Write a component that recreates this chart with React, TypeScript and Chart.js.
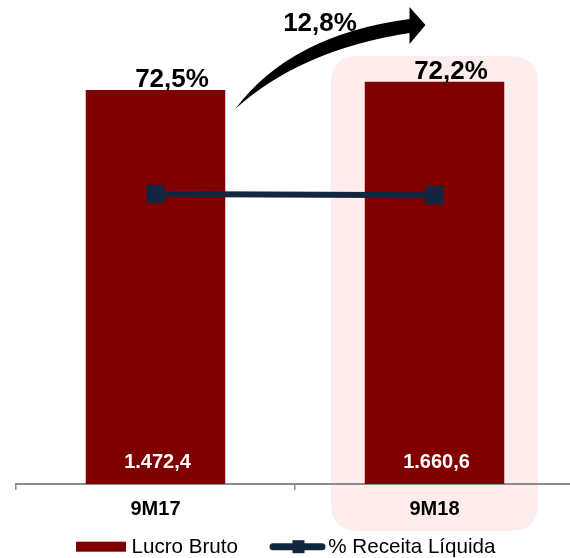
import React, { useEffect, useRef } from "react";
import { Chart, registerables } from "chart.js";

Chart.register(...registerables);

// ---- data ----
const categories: string[] = ["9M17", "9M18"];
const lucroBruto: number[] = [1472.4, 1660.6];
const receitaPct: number[] = [72.5, 72.2];
const seriesNames: string[] = ["Lucro Bruto", "% Receita Líquida"];
const highlightIndex = 1;

// ---- styles ----
const FONT = "'Liberation Sans', Arial, Helvetica, sans-serif";
const BAR_COLOR = "#800000";
const LINE_COLOR = "#13263f";
const HIGHLIGHT = "#ffeded";
const AXIS_COLOR = "#8c8c8c";

// value-axis window used by the source chart (bars are not drawn from zero there)
const BAR_AXIS_MIN = -7460;
const BAR_AXIS_MAX = 2243;
const PCT_AXIS_MIN = 0;
const PCT_AXIS_MAX = 107;

function fmtNum(v: number, decimals = 1): string {
  const [i, d] = v.toFixed(decimals).split(".");
  const withDots = i.replace(/\B(?=(\d{3})+(?!\d))/g, ".");
  return d ? `${withDots},${d}` : withDots;
}

function roundRect(ctx: CanvasRenderingContext2D, x: number, y: number, w: number, h: number, r: number) {
  ctx.beginPath();
  ctx.moveTo(x + r, y);
  ctx.lineTo(x + w - r, y);
  ctx.quadraticCurveTo(x + w, y, x + w, y + r);
  ctx.lineTo(x + w, y + h - r);
  ctx.quadraticCurveTo(x + w, y + h, x + w - r, y + h);
  ctx.lineTo(x + r, y + h);
  ctx.quadraticCurveTo(x, y + h, x, y + h - r);
  ctx.lineTo(x, y + r);
  ctx.quadraticCurveTo(x, y, x + r, y);
  ctx.closePath();
}

const highlightPlugin = {
  id: "highlight",
  beforeDraw(chart: any) {
    const { ctx, chartArea } = chart;
    const xs = chart.scales.x;
    const cx = xs.getPixelForValue(highlightIndex);
    const cw = xs.width / categories.length;
    const w = cw * 0.743;
    ctx.save();
    ctx.fillStyle = HIGHLIGHT;
    roundRect(ctx, cx - w / 2, chartArea.top, w, chartArea.bottom + 47 - chartArea.top, 28);
    ctx.fill();
    ctx.restore();
  },
};

const labelsPlugin = {
  id: "labels",
  afterDatasetsDraw(chart: any) {
    const { ctx } = chart;
    const bars = chart.getDatasetMeta(0).data;
    ctx.save();
    bars.forEach((bar: any, i: number) => {
      // percentage above bar
      ctx.font = `bold 26px ${FONT}`;
      ctx.fillStyle = "#000";
      ctx.textAlign = "center";
      ctx.textBaseline = "alphabetic";
      ctx.fillText(fmtNum(receitaPct[i]) + "%", bar.x + 16.5, bar.y - 3);
      // value inside bar
      ctx.font = `bold 20px ${FONT}`;
      ctx.fillStyle = "#fff";
      ctx.textBaseline = "middle";
      ctx.fillText(fmtNum(lucroBruto[i]), bar.x + 2, bar.base - 22);
    });
    ctx.restore();
  },
  afterDraw(chart: any) {
    const { ctx } = chart;
    const bars = chart.getDatasetMeta(0).data;
    const b1 = bars[0];
    const b2 = bars[1];
    // growth arrow
    const tx = b1.x + b1.width / 2 + 10;
    const ty = b1.y + 19;
    const hx = b2.x - 25;
    const hy = chart.chartArea.top - 30;
    const tipX = b2.x - 9;
    ctx.save();
    ctx.fillStyle = "#000";
    ctx.beginPath();
    ctx.moveTo(tx, ty);
    ctx.quadraticCurveTo(tx + 65, hy + 24, hx, hy + 7);
    ctx.lineTo(hx, hy + 18);
    ctx.lineTo(tipX, hy - 1);
    ctx.lineTo(hx, hy - 19);
    ctx.lineTo(hx, hy - 7);
    ctx.quadraticCurveTo(tx + 55, hy + 9, tx, ty);
    ctx.closePath();
    ctx.fill();

    const growth = (lucroBruto[1] / lucroBruto[0] - 1) * 100;
    ctx.font = `bold 26px ${FONT}`;
    ctx.textAlign = "center";
    ctx.textBaseline = "alphabetic";
    ctx.fillText(fmtNum(growth) + "%", (b1.x + b2.x) / 2 + 25, hy + 5);

    // legend
    const ly = chart.height - 11.3;
    const ds = chart.data.datasets;
    ctx.font = `20.6px ${FONT}`;
    ctx.textAlign = "left";
    ctx.textBaseline = "middle";
    ctx.fillStyle = ds[0].backgroundColor;
    ctx.fillRect(76, ly - 5, 50, 10);
    ctx.fillStyle = "#000";
    ctx.fillText(ds[0].label, 131.5, ly + 1);

    ctx.strokeStyle = ds[1].borderColor;
    ctx.lineWidth = 7;
    ctx.lineCap = "round";
    ctx.beginPath();
    ctx.moveTo(273, ly);
    ctx.lineTo(322, ly);
    ctx.stroke();
    ctx.fillStyle = ds[1].borderColor;
    ctx.fillRect(292.5, ly - 6.5, 12, 13);
    ctx.fillStyle = "#000";
    ctx.fillText(ds[1].label, 328.3, ly + 1);
    ctx.restore();
  },
};

export default function App() {
  const ref = useRef<HTMLCanvasElement | null>(null);

  useEffect(() => {
    if (!ref.current) return;
    const chart = new Chart(ref.current, {
      type: "bar",
      data: {
        labels: categories,
        datasets: [
          {
            type: "bar",
            label: seriesNames[0],
            data: lucroBruto,
            backgroundColor: BAR_COLOR,
            borderWidth: 0,
            barPercentage: 0.5,
            categoryPercentage: 1,
            base: BAR_AXIS_MIN,
            yAxisID: "y",
            order: 1,
          } as any,
          {
            type: "line",
            label: seriesNames[1],
            data: receitaPct,
            borderColor: LINE_COLOR,
            backgroundColor: LINE_COLOR,
            borderWidth: 6,
            pointStyle: "rect",
            pointRadius: 13,
            pointBorderWidth: 0,
            pointBackgroundColor: LINE_COLOR,
            tension: 0,
            yAxisID: "y1",
            order: 0,
          } as any,
        ],
      },
      options: {
        responsive: false,
        animation: false,
        layout: { autoPadding: false, padding: { top: 56, left: 16, right: 0, bottom: 30 } },
        plugins: {
          legend: { display: false },
          tooltip: { enabled: false },
        },
        scales: {
          x: {
            offset: true,
            grid: {
              display: true,
              drawOnChartArea: false,
              drawTicks: true,
              tickLength: 6,
              color: AXIS_COLOR,
              lineWidth: 1.5,
              offset: true,
            },
            border: { display: true, color: AXIS_COLOR, width: 2 },
            ticks: {
              color: "#000",
              padding: 7,
              font: { family: FONT, size: 20, weight: "bold" },
            },
          },
          y: { display: false, min: BAR_AXIS_MIN, max: BAR_AXIS_MAX },
          y1: { display: false, min: PCT_AXIS_MIN, max: PCT_AXIS_MAX, position: "right" },
        },
      } as any,
      plugins: [highlightPlugin, labelsPlugin],
    });
    return () => chart.destroy();
  }, []);

  return (
    <div
      style={{
        position: "fixed",
        left: 0,
        top: 0,
        width: 570,
        height: 558,
        overflow: "hidden",
        background: "#fff",
      }}
    >
      <canvas ref={ref} width={574} height={558} style={{ display: "block" }} />
    </div>
  );
}
